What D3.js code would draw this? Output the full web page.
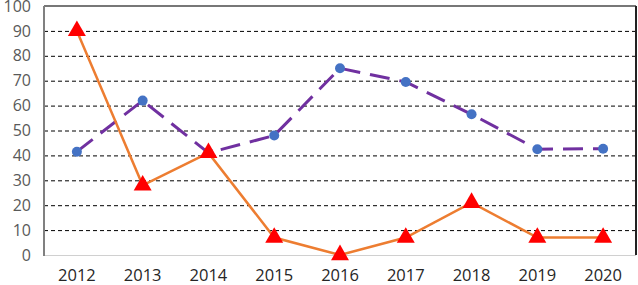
<!DOCTYPE html>
<html><head><meta charset="utf-8">
<script src="https://cdn.jsdelivr.net/npm/d3@7"></script>
<style>body{margin:0;background:#fff}svg{display:block}</style>
</head><body>
<svg id="c" width="638" height="285"></svg>
<script>
const years = ["2012","2013","2014","2015","2016","2017","2018","2019","2020"];
const seriesA = [90, 28, 41, 7, 0, 7, 21, 7, 7];
const seriesB = [41.5, 62, 41, 48, 75, 69.5, 56.5, 42.5, 42.7];
const yTicks = [0,10,20,30,40,50,60,70,80,90,100];

const svg = d3.select("#c");
const L = 44, R = 636, T = 6, B = 255;
const x = d3.scaleBand().domain(years).range([L, R]);
const y = d3.scaleLinear().domain([0,100]).range([B, T]);
const cx = d => x(d) + x.bandwidth()/2;
const font = "'Open Sans', 'Liberation Sans', sans-serif";

// gridlines
svg.append("g").selectAll("line").data(yTicks.filter(t => t>0 && t<100)).join("line")
  .attr("x1", L).attr("x2", R).attr("y1", d=>y(d)+0.5).attr("y2", d=>y(d)+0.5)
  .attr("stroke", "#000").attr("stroke-width", 1).attr("stroke-dasharray", "4,3");

// borders
svg.append("line").attr("x1", L).attr("x2", R).attr("y1", y(100)).attr("y2", y(100)).attr("stroke", "#777").attr("stroke-width", 2);
svg.append("line").attr("x1", L).attr("x2", R).attr("y1", B+0.5).attr("y2", B+0.5).attr("stroke", "#d0d0d0").attr("stroke-width", 1);
svg.append("line").attr("x1", R).attr("x2", R).attr("y1", T).attr("y2", B).attr("stroke", "#222").attr("stroke-width", 2);
svg.append("line").attr("x1", L).attr("x2", L).attr("y1", T).attr("y2", B+1).attr("stroke", "#808080").attr("stroke-width", 2);

// y axis labels
const yAxis = d3.axisLeft(y).tickValues(yTicks).tickSize(0).tickPadding(13);
const gy = svg.append("g").attr("transform", `translate(${L},0)`).call(yAxis);
gy.select(".domain").remove();
gy.selectAll("text").attr("fill", "#595959").style("font-family", font).style("font-size", "16px");

// x axis labels
const xAxis = d3.axisBottom(x).tickSize(0).tickPadding(14);
const gx = svg.append("g").attr("transform", `translate(0,${B})`).call(xAxis);
gx.select(".domain").remove();
gx.selectAll("text").attr("fill", "#262626").style("font-family", font).style("font-size", "16.5px");

// series B (purple dashed, blue dots)
const lineB = d3.line().x((d,i)=>cx(years[i])).y(d=>y(d));
svg.append("path").datum(seriesB).attr("d", lineB).attr("fill", "none")
  .attr("stroke", "#7030A0").attr("stroke-width", 3).attr("stroke-dasharray", "20,10");
svg.append("g").selectAll("circle").data(seriesB).join("circle")
  .attr("cx", (d,i)=>cx(years[i])).attr("cy", d=>y(d)).attr("r", 5).attr("fill", "#4472C4");

// series A (orange, red triangles)
const lineA = d3.line().x((d,i)=>cx(years[i])).y(d=>y(d));
svg.append("path").datum(seriesA).attr("d", lineA).attr("fill", "none")
  .attr("stroke", "#ED7D31").attr("stroke-width", 2.5);
const tri = d3.symbol().type(d3.symbolTriangle).size(140);
svg.append("g").selectAll("path").data(seriesA).join("path")
  .attr("d", tri).attr("transform", (d,i)=>`translate(${cx(years[i])},${y(d)})`).attr("fill", "#FF0000");
</script>
</body></html>
